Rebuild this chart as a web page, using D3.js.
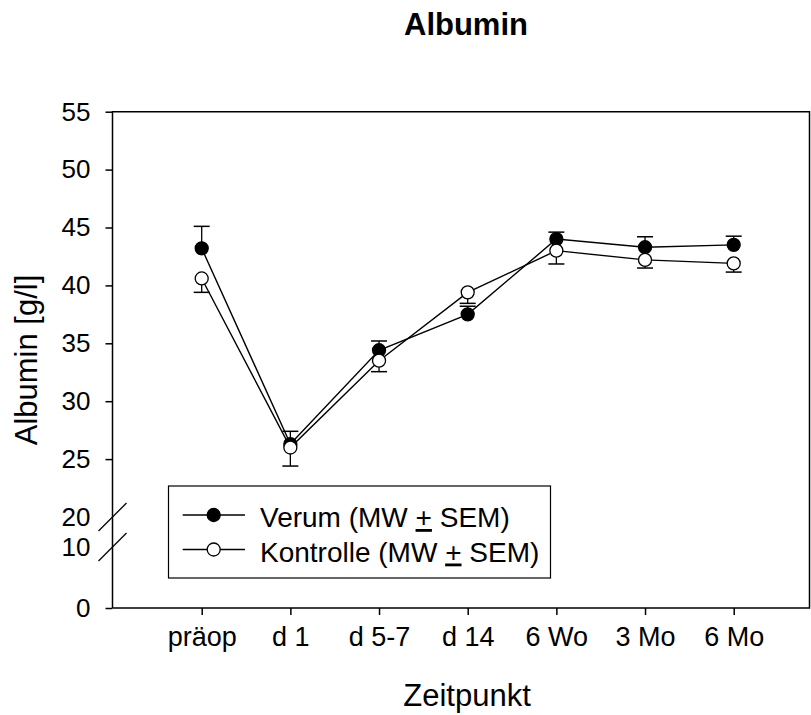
<!DOCTYPE html>
<html>
<head>
<meta charset="utf-8">
<script src="https://d3js.org/d3.v7.min.js"></script>
<style>
  body { margin: 0; background: #fff; }
  text { font-family: "Liberation Sans", Arial, sans-serif; fill: #000; }
</style>
</head>
<body>
<div id="albumin_chart"></div>
<script>
// data
var categories = ["präop", "d 1", "d 5-7", "d 14", "6 Wo", "3 Mo", "6 Mo"];
var verumMean = [43.2, 26.3, 34.4, 37.5, 44.0, 43.3, 43.5];
var verumSem = [1.9, 1.1, 0.8, 0.7, 0.6, 0.9, 0.75];
var kontrolleMean = [40.6, 26.0, 33.5, 39.4, 43.0, 42.2, 41.9];
var kontrolleSem = [1.2, 1.6, 0.95, 0.95, 1.15, 0.7, 0.75];
var yTicksUpper = [25, 30, 35, 40, 45, 50, 55];
var yTicksBreak = [20, 10];
var legendLabels = ["Verum (MW ", "Kontrolle (MW "];

var width = 811, height = 715;
var plot = {left: 112.5, right: 809.5, top: 111.7, bottom: 608};

var svg = d3.select("#albumin_chart")
  .append("svg")
    .attr("width", width)
    .attr("height", height);

// x scale: point positions of the time points
var x = d3.scalePoint()
  .domain(categories)
  .range([201.7, 733.7]);

// broken y axis: 0-10 below, 20-55 above
var yLow = d3.scaleLinear().domain([0, 10]).range([plot.bottom, 547]);
var yHigh = d3.scaleLinear().domain([20, 55]).range([517, plot.top]);
function y(v) { return v <= 10 ? yLow(v) : yHigh(v); }

// frame
svg.append("path")
  .attr("d", "M" + plot.left + "," + plot.bottom + "V" + plot.top + "H" + plot.right + "V" + plot.bottom + "H" + plot.left)
  .attr("fill", "none")
  .attr("stroke", "#000")
  .attr("stroke-width", 1.5);

// y axis ticks
var yAxisHigh = svg.append("g")
  .attr("transform", "translate(" + plot.left + ",0)")
  .call(d3.axisLeft(yHigh).tickValues(yTicksUpper).tickSize(7).tickPadding(15));
var yAxisLow = svg.append("g")
  .attr("transform", "translate(" + plot.left + ",0)")
  .call(d3.axisLeft(yLow).tickValues([0]).tickSize(7).tickPadding(15));
var yAxisBreak = svg.append("g")
  .attr("transform", "translate(" + plot.left + ",0)")
  .call(d3.axisLeft(yHigh).tickValues([20]).tickSize(0).tickPadding(22));
var yAxisBreak2 = svg.append("g")
  .attr("transform", "translate(" + plot.left + ",0)")
  .call(d3.axisLeft(yLow).tickValues([10]).tickSize(0).tickPadding(22));

[yAxisHigh, yAxisLow, yAxisBreak, yAxisBreak2].forEach(function(g) {
  g.select(".domain").remove();
  g.selectAll("line").attr("stroke", "#000").attr("stroke-width", 1.5);
  g.selectAll("text")
    .style("font-size", "26px")
    .style("font-family", "'Liberation Sans', Arial, sans-serif")
    .attr("fill", "#000");
});

// break marks
yTicksBreak.forEach(function(v) {
  var yy = v <= 10 ? yLow(v) : yHigh(v);
  svg.append("line")
    .attr("x1", plot.left - 14).attr("y1", yy + 14)
    .attr("x2", plot.left + 14).attr("y2", yy - 14)
    .attr("stroke", "#000")
    .attr("stroke-width", 1.3);
});

// x axis
var xAxis = svg.append("g")
  .attr("transform", "translate(0," + plot.bottom + ")")
  .call(d3.axisBottom(x).tickSize(7).tickSizeOuter(0).tickPadding(12));
xAxis.select(".domain").remove();
xAxis.selectAll("line").attr("stroke", "#000").attr("stroke-width", 1.5);
xAxis.selectAll("text")
  .style("font-size", "27px")
  .style("font-family", "'Liberation Sans', Arial, sans-serif")
  .attr("fill", "#000");

// series
var series = [
  {mean: verumMean, sem: verumSem, dir: 1, fill: "#000"},
  {mean: kontrolleMean, sem: kontrolleSem, dir: -1, fill: "#fff"}
];

var line = d3.line()
  .x(function(d, i) { return x(categories[i]); })
  .y(function(d) { return y(d); });

series.forEach(function(s) {
  svg.append("path")
    .datum(s.mean)
    .attr("d", line)
    .attr("fill", "none")
    .attr("stroke", "#000")
    .attr("stroke-width", 1.4);
});

series.forEach(function(s) {
  var g = svg.append("g");
  s.mean.forEach(function(m, i) {
    var cx = x(categories[i]);
    var end = y(m + s.dir * s.sem[i]);
    g.append("line")
      .attr("x1", cx).attr("x2", cx)
      .attr("y1", y(m)).attr("y2", end)
      .attr("stroke", "#000").attr("stroke-width", 1.3);
    g.append("line")
      .attr("x1", cx - 8).attr("x2", cx + 8)
      .attr("y1", end).attr("y2", end)
      .attr("stroke", "#000").attr("stroke-width", 1.5);
  });
});

series.forEach(function(s) {
  svg.append("g")
    .selectAll("circle")
    .data(s.mean)
    .enter()
    .append("circle")
      .attr("cx", function(d, i) { return x(categories[i]); })
      .attr("cy", function(d) { return y(d); })
      .attr("r", 6.5)
      .attr("fill", s.fill)
      .attr("stroke", "#000")
      .attr("stroke-width", 1.3);
});

// legend
svg.append("rect")
  .attr("x", 168.5).attr("y", 486)
  .attr("width", 382).attr("height", 92)
  .attr("fill", "#fff")
  .attr("stroke", "#000")
  .attr("stroke-width", 1.2);

series.forEach(function(s, i) {
  var ly = 515 + i * 34.5;
  svg.append("line")
    .attr("x1", 182.7).attr("x2", 245)
    .attr("y1", ly).attr("y2", ly)
    .attr("stroke", "#000").attr("stroke-width", 1.4);
  svg.append("circle")
    .attr("cx", 213.7).attr("cy", ly).attr("r", 6.5)
    .attr("fill", s.fill)
    .attr("stroke", "#000").attr("stroke-width", 1.3);
  var t = svg.append("text")
    .attr("x", 260)
    .attr("y", ly + 12)
    .style("font-size", "28px");
  t.append("tspan").text(legendLabels[i]);
  t.append("tspan").style("text-decoration", "underline").text("+");
  t.append("tspan").text(" SEM)");
});

// title and axis labels
svg.append("text")
  .attr("x", 466)
  .attr("y", 35)
  .attr("text-anchor", "middle")
  .style("font-size", "31px")
  .style("font-weight", "bold")
  .text("Albumin");

svg.append("text")
  .attr("transform", "translate(37,360) rotate(-90)")
  .attr("text-anchor", "middle")
  .style("font-size", "31px")
  .text("Albumin [g/l]");

svg.append("text")
  .attr("x", 467)
  .attr("y", 706)
  .attr("text-anchor", "middle")
  .style("font-size", "31px")
  .text("Zeitpunkt");
</script>
</body>
</html>
